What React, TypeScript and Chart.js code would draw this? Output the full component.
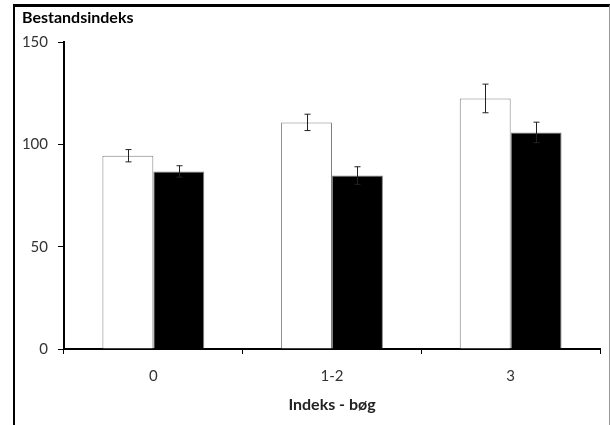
import React, { useEffect, useRef } from "react";
import { Chart, registerables } from "chart.js";

Chart.register(...registerables);

const categories = ["0", "1-2", "3"];
const whiteValues = [94.5, 110.8, 122.5];
const whiteErrors = [3.0, 4.0, 7.0];
const blackValues = [86.8, 84.8, 105.9];
const blackErrors = [2.8, 4.3, 5.0];
const yTicks = [0, 50, 100, 150];
const chartTitle = "Bestandsindeks";
const xTitle = "Indeks - bøg";

const FONT = "Lato, 'Open Sans', sans-serif";

const errorBarPlugin = {
  id: "errorBars",
  afterDatasetsDraw(chart: any) {
    const ctx = chart.ctx;
    const yScale = chart.scales.y;
    chart.data.datasets.forEach((ds: any, di: number) => {
      const meta = chart.getDatasetMeta(di);
      const errs: number[] = ds.errors || [];
      meta.data.forEach((bar: any, i: number) => {
        const v = ds.data[i];
        const e = errs[i];
        if (e == null) return;
        const x = Math.round(bar.x) + 0.5;
        const yTop = yScale.getPixelForValue(v + e);
        const yBot = yScale.getPixelForValue(v - e);
        ctx.save();
        ctx.strokeStyle = "#222";
        ctx.lineWidth = 1;
        ctx.beginPath();
        ctx.moveTo(x, yTop);
        ctx.lineTo(x, yBot);
        ctx.moveTo(x - 3, yTop);
        ctx.lineTo(x + 3, yTop);
        ctx.moveTo(x - 3, yBot);
        ctx.lineTo(x + 3, yBot);
        ctx.stroke();
        ctx.restore();
      });
    });
  },
};

export default function App() {
  const ref = useRef<HTMLCanvasElement>(null);
  useEffect(() => {
    if (!ref.current) return;
    const chart = new Chart(ref.current, {
      type: "bar",
      data: {
        labels: categories,
        datasets: [
          {
            data: whiteValues,
            errors: whiteErrors,
            backgroundColor: "#ffffff",
            borderColor: "#7f7f7f",
            borderWidth: 1,
            categoryPercentage: 0.57,
            barPercentage: 1,
          } as any,
          {
            data: blackValues,
            errors: blackErrors,
            backgroundColor: "#000000",
            borderColor: "#7f7f7f",
            borderWidth: 1,
            categoryPercentage: 0.57,
            barPercentage: 1,
          } as any,
        ],
      },
      options: {
        animation: false,
        responsive: false,
        maintainAspectRatio: false,
        layout: { padding: { left: 7, right: 9, top: 0, bottom: 0 } },
        plugins: {
          legend: { display: false },
          tooltip: { enabled: false },
          title: {
            display: true,
            text: chartTitle,
            align: "start",
            color: "#000",
            font: { family: FONT, size: 16, weight: "bold" },
            padding: { top: 1, bottom: 15 },
          },
        },
        scales: {
          x: {
            offset: true,
            afterFit(scale: any) {
              scale.height = 76;
            },
            grid: {
              display: true,
              offset: true,
              drawOnChartArea: false,
              drawTicks: true,
              tickLength: 5,
              color: "#000",
              lineWidth: 1,
            },
            border: { display: true, color: "#000", width: 2 },
            ticks: {
              color: "#333",
              font: { family: FONT, size: 15 },
              padding: 13,
            },
            title: {
              display: true,
              text: xTitle,
              color: "#222",
              font: { family: FONT, size: 16, weight: "bold" },
              padding: { top: 0, bottom: 11 },
            },
          },
          y: {
            min: 0,
            max: 150,
            afterBuildTicks(scale: any) {
              scale.ticks = yTicks.map((v) => ({ value: v }));
            },
            afterFit(scale: any) {
              scale.width = 42;
            },
            grid: {
              display: true,
              drawOnChartArea: false,
              drawTicks: true,
              tickLength: 6,
              color: "#000",
              lineWidth: 1,
            },
            border: { display: true, color: "#000", width: 2 },
            ticks: {
              color: "#333",
              font: { family: FONT, size: 15 },
              padding: 10,
            },
          },
        },
      },
      plugins: [errorBarPlugin],
    });
    return () => chart.destroy();
  }, []);

  return (
    <div
      style={{
        position: "fixed",
        left: 13,
        top: 4,
        width: 594,
        height: 430,
        borderLeft: "2px solid #000",
        borderTop: "3px solid #000",
        borderRight: "1px solid #999",
        background: "#fff",
      }}
    >
      <canvas ref={ref} width={594} height={418} style={{ display: "block" }} />
    </div>
  );
}
